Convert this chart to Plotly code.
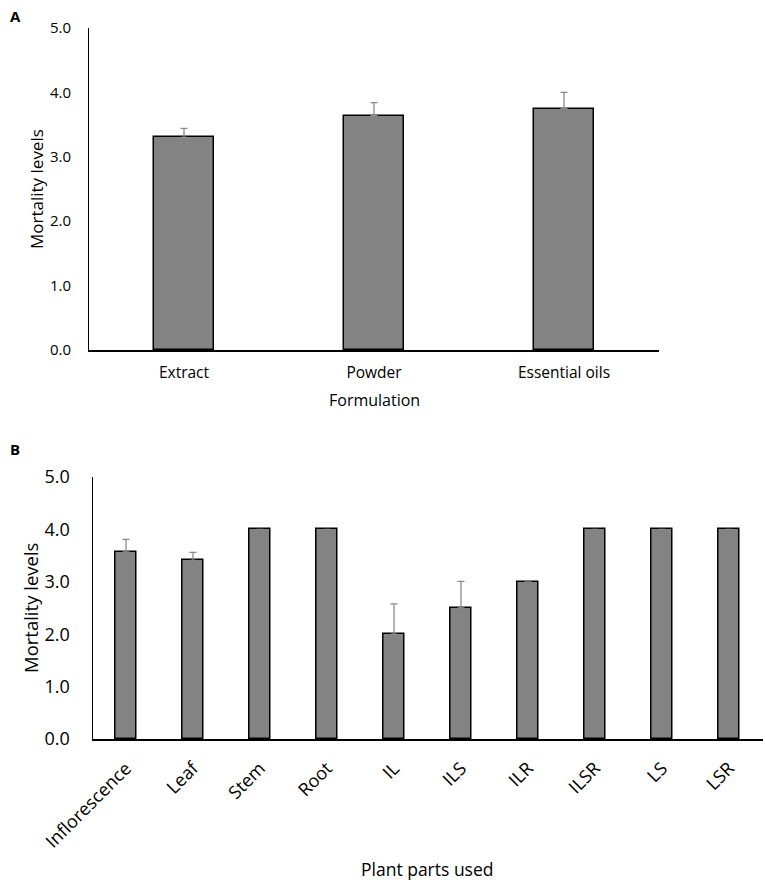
# Mortality levels by formulation (A) and by plant part used (B)
import plotly.graph_objects as go

# Panel A data
formulations = ["Extract", "Powder", "Essential oils"]
form_mean = [3.30, 3.64, 3.75]
form_err = [0.14, 0.20, 0.25]

# Panel B data
parts = ["Inflorescence", "Leaf", "Stem", "Root", "IL", "ILS", "ILR", "ILSR", "LS", "LSR"]
parts_mean = [3.57, 3.41, 4.0, 4.0, 2.0, 2.5, 3.0, 4.0, 4.0, 4.0]
parts_err = [0.24, 0.15, None, None, 0.58, 0.51, None, None, None, 0.0]

y_ticks = [0, 1, 2, 3, 4, 5]
y_ticktext = ["0.0", "1.0", "2.0", "3.0", "4.0", "5.0"]

W, H = 765, 883
FONT = "Open Sans"
bar_fill = "#838383"
err_col = "#8a8a8a"

fig = go.Figure()

fig.add_trace(go.Bar(
    x=formulations, y=form_mean, width=0.315,
    marker=dict(color=bar_fill, line=dict(color="black", width=1.5)),
    error_y=dict(type="data", array=form_err, arrayminus=[0] * len(form_err),
                 symmetric=False, color=err_col, thickness=1.3, width=3.5),
    xaxis="x", yaxis="y", showlegend=False,
))

fig.add_trace(go.Bar(
    x=parts, y=parts_mean, width=0.32,
    marker=dict(color=bar_fill, line=dict(color="black", width=1.5)),
    error_y=dict(type="data", array=parts_err,
                 arrayminus=[0 if e is not None else None for e in parts_err],
                 symmetric=False, color=err_col, thickness=1.3, width=3.5),
    xaxis="x2", yaxis="y2", showlegend=False,
))

# pixel -> paper helpers
def px_x(p):
    return p / W

def px_y(p):
    return (H - p) / H

fig.update_layout(
    width=W, height=H,
    margin=dict(l=0, r=0, t=0, b=0),
    plot_bgcolor="white", paper_bgcolor="white",
    font=dict(family=FONT, color="black"),
    bargap=0,
    xaxis=dict(domain=[px_x(89), px_x(659)], showline=True, linecolor="black",
               linewidth=1.6, ticks="", showgrid=False, automargin=False,
               tickfont=dict(size=15.5), ticklabelstandoff=8, anchor="y"),
    yaxis=dict(domain=[px_y(350), px_y(28)], range=[0, 5], showline=True,
               linecolor="black", linewidth=1, ticks="", showgrid=False,
               zeroline=False, tickvals=y_ticks, ticktext=y_ticktext,
               tickfont=dict(size=15), ticklabelstandoff=14, automargin=False,
               anchor="x"),
    xaxis2=dict(domain=[px_x(92.5), px_x(762.5)], showline=True, linecolor="black",
                linewidth=1.6, ticks="", showgrid=False, automargin=False,
                tickfont=dict(size=18), tickangle=-45, ticklabelstandoff=10,
                anchor="y2"),
    yaxis2=dict(domain=[px_y(739), px_y(477)], range=[0, 5], showline=True,
                linecolor="black", linewidth=1, ticks="", showgrid=False,
                zeroline=False, tickvals=y_ticks, ticktext=y_ticktext,
                tickfont=dict(size=18), ticklabelstandoff=18, automargin=False,
                anchor="x2"),
)

annos = [
    dict(text="<b>A</b>", x=px_x(8), y=px_y(16), xanchor="left", size=15),
    dict(text="<b>B</b>", x=px_x(8), y=px_y(449), xanchor="left", size=15),
    dict(text="Formulation", x=px_x(374), y=px_y(400), xanchor="center", size=16),
    dict(text="Mortality levels", x=px_x(36), y=px_y(189), xanchor="center", size=17, angle=-90),
    dict(text="Plant parts used", x=px_x(427), y=px_y(869), xanchor="center", size=17.5),
    dict(text="Mortality levels", x=px_x(30), y=px_y(608), xanchor="center", size=18.5, angle=-90),
]
for a in annos:
    fig.add_annotation(text=a["text"], x=a["x"], y=a["y"], xref="paper", yref="paper",
                       xanchor=a["xanchor"], yanchor="middle", showarrow=False,
                       textangle=a.get("angle", 0), font=dict(size=a["size"], color="black"))

# drop the default page margin so the figure sits at the window's top-left corner
fig.write_html("out.html", config={"displayModeBar": False},
               post_script="document.body.style.margin='0';")
